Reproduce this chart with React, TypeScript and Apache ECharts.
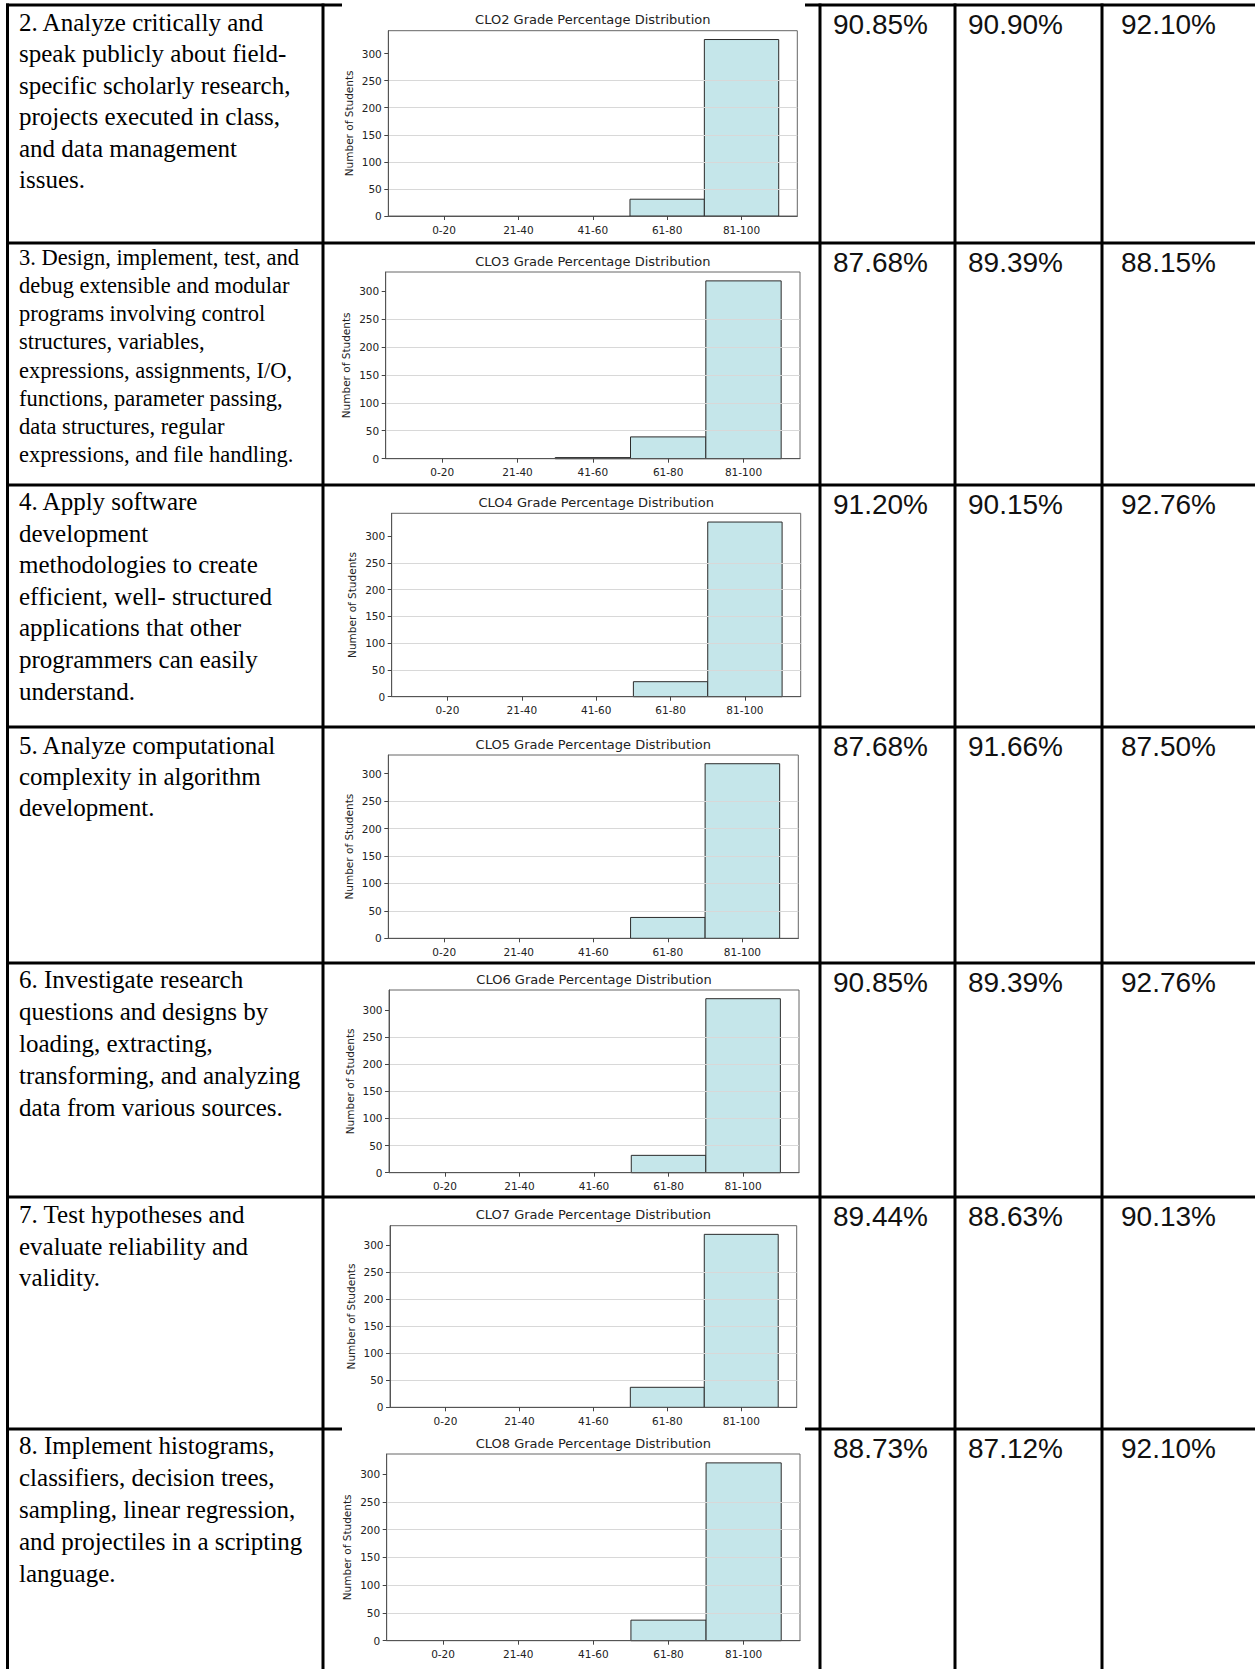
import React, { useEffect, useRef } from "react";
import * as echarts from "echarts";

// ---------- data ----------
const binLabels = ["0-20", "21-40", "41-60", "61-80", "81-100"];
const binPositions = [0, 1, 2, 3, 4];
const yTickValues = [0, 50, 100, 150, 200, 250, 300];
const cloNames = ["CLO2", "CLO3", "CLO4", "CLO5", "CLO6", "CLO7", "CLO8"];

const clo2Counts = [0, 0, 0, 31, 326];
const clo3Counts = [0, 0, 2, 39, 318];
const clo4Counts = [0, 0, 0, 28, 326];
const clo5Counts = [0, 0, 0, 38, 318];
const clo6Counts = [0, 0, 0, 32, 321];
const clo7Counts = [0, 0, 0, 37, 320];
const clo8Counts = [0, 0, 0, 37, 320];
const allCounts = [clo2Counts, clo3Counts, clo4Counts, clo5Counts, clo6Counts, clo7Counts, clo8Counts];

const outcomeTexts = [
  ["2. Analyze critically and", "speak publicly about field-", "specific scholarly research,", "projects executed in class,", "and data management", "issues."],
  ["3. Design, implement, test, and", "debug extensible and modular", "programs involving control", "structures, variables,", "expressions, assignments, I/O,", "functions, parameter passing,", "data structures, regular", "expressions, and file handling."],
  ["4. Apply software", "development", "methodologies to create", "efficient, well- structured", "applications that other", "programmers can easily", "understand."],
  ["5. Analyze computational", "complexity in algorithm", "development."],
  ["6. Investigate research", "questions and designs by", "loading, extracting,", "transforming, and analyzing", "data from various sources."],
  ["7. Test hypotheses and", "evaluate reliability and", "validity."],
  ["8. Implement histograms,", "classifiers, decision trees,", "sampling, linear regression,", "and projectiles in a scripting", "language."],
];

const percentCol1 = ["90.85%", "87.68%", "91.20%", "87.68%", "90.85%", "89.44%", "88.73%"];
const percentCol2 = ["90.90%", "89.39%", "90.15%", "91.66%", "89.39%", "88.63%", "87.12%"];
const percentCol3 = ["92.10%", "88.15%", "92.76%", "87.50%", "92.76%", "90.13%", "92.10%"];

// ---------- layout (pixels) ----------
const W = 1255;
const H = 1669;
const plotBoxes = [
  { L: 388.3, R: 797.3, T: 30.7, B: 216 },
  { L: 385.7, R: 800, T: 272, B: 458.7 },
  { L: 391.7, R: 800.7, T: 513.3, B: 696.7 },
  { L: 388.3, R: 798.3, T: 755, B: 938.3 },
  { L: 389, R: 799, T: 990, B: 1172.7 },
  { L: 390, R: 796.7, T: 1225.7, B: 1407.3 },
  { L: 386.7, R: 800, T: 1454, B: 1640.7 },
];
const rowLines = [5, 243, 485, 727, 963, 1197, 1429];
const rowLineGap = [true, false, false, false, false, false, true];
const colLines = [7.5, 323, 820, 955, 1102];
const textFirstY = [22.4, 257.6, 501.4, 745, 979, 1214.6, 1445.6];
const textStep = [31.5, 28.1, 31.6, 31.4, 32, 31.4, 32];
const textSize = [25, 22.5, 25, 25, 25, 25, 25];
const pctX = [833, 968, 1121];

const chartFont = "DejaVu Sans";
const LINE_W = 3;

function buildOption() {
  const grid: any[] = [];
  const xAxis: any[] = [];
  const yAxis: any[] = [];
  const series: any[] = [];
  const title: any[] = [];

  plotBoxes.forEach((b, i) => {
    const counts = allCounts[i];
    const ymax = Math.max(...counts) * 1.05;
    grid.push({
      left: b.L,
      top: b.T,
      width: b.R - b.L,
      height: b.B - b.T,
      show: true,
      borderColor: "#666",
      borderWidth: 1,
      backgroundColor: "#fff",
    });
    xAxis.push({
      gridIndex: i,
      type: "value",
      min: -0.75,
      max: 4.75,
      z: 4,
      axisLine: { show: true, onZero: false, lineStyle: { color: "#555", width: 1 } },
      axisTick: { show: true, customValues: binPositions, length: 4, lineStyle: { color: "#444" } },
      axisLabel: {
        customValues: binPositions,
        formatter: (v: number) => binLabels[Math.round(v)] ?? "",
        fontSize: 10.5,
        color: "#222",
        fontFamily: chartFont,
        margin: 8,
      },
      splitLine: { show: false },
    });
    yAxis.push({
      gridIndex: i,
      type: "value",
      min: 0,
      max: ymax,
      interval: 50,
      z: 3,
      axisLine: { show: true, onZero: false, lineStyle: { color: "#555", width: 1 } },
      axisTick: { show: true, customValues: yTickValues, length: 4, lineStyle: { color: "#444" } },
      axisLabel: {
        customValues: yTickValues,
        fontSize: 10.5,
        color: "#222",
        fontFamily: chartFont,
        margin: 6.5,
      },
      splitLine: {
        show: true,
        showMinLine: false,
        showMaxLine: false,
        lineStyle: { color: "#d8d8d8", width: 1 },
      },
      name: "Number of Students",
      nameLocation: "middle",
      nameRotate: 90,
      nameGap: 34,
      nameTextStyle: { fontSize: 10.5, color: "#222", fontFamily: chartFont },
    });
    series.push({
      type: "custom",
      xAxisIndex: i,
      yAxisIndex: i,
      z: 2,
      clip: false,
      encode: { x: 0, y: 1 },
      data: counts.map((v, k) => [binPositions[k], v]),
      renderItem: (params: any, api: any) => {
        const x = api.value(0);
        const v = api.value(1);
        if (!(v > 0)) return null;
        const p1 = api.coord([x - 0.5, v]);
        const p2 = api.coord([x + 0.5, 0]);
        return {
          type: "rect",
          shape: { x: p1[0], y: p1[1], width: p2[0] - p1[0], height: p2[1] - p1[1] },
          style: { fill: "#c5e6ea", stroke: "#2b2b2b", lineWidth: 1 },
        };
      },
    });
    title.push({
      text: `${cloNames[i]} Grade Percentage Distribution`,
      left: (b.L + b.R) / 2,
      top: b.T - 11 - 6.5,
      textAlign: "center",
      padding: 0,
      textStyle: {
        fontSize: 13,
        fontWeight: "normal",
        color: "#222",
        fontFamily: chartFont,
        lineHeight: 13,
      },
    });
  });

  const graphic: any[] = [];
  // table lines
  colLines.forEach((x) => {
    graphic.push({
      type: "rect",
      shape: { x: x - LINE_W / 2, y: rowLines[0] - LINE_W / 2, width: LINE_W, height: H },
      style: { fill: "#000" },
      z: 10,
    });
  });
  rowLines.forEach((y, r) => {
    const x0 = colLines[0] - LINE_W / 2;
    if (rowLineGap[r]) {
      graphic.push({
        type: "rect",
        shape: { x: x0, y: y - LINE_W / 2, width: 342 - x0, height: LINE_W },
        style: { fill: "#000" },
        z: 10,
      });
      graphic.push({
        type: "rect",
        shape: { x: 805, y: y - LINE_W / 2, width: W - 805, height: LINE_W },
        style: { fill: "#000" },
        z: 10,
      });
    } else {
      graphic.push({
        type: "rect",
        shape: { x: x0, y: y - LINE_W / 2, width: W - x0, height: LINE_W },
        style: { fill: "#000" },
        z: 10,
      });
    }
  });
  // outcome texts
  outcomeTexts.forEach((lines, r) => {
    lines.forEach((t, k) => {
      graphic.push({
        type: "text",
        x: 19,
        y: textFirstY[r] + k * textStep[r],
        z: 10,
        style: {
          text: t,
          font: `${textSize[r]}px "Liberation Serif"`,
          fill: "#000",
          textAlign: "left",
          textVerticalAlign: "middle",
          align: "left",
          verticalAlign: "middle",
        },
      });
    });
  });
  // percentages
  [percentCol1, percentCol2, percentCol3].forEach((col, c) => {
    col.forEach((t, r) => {
      graphic.push({
        type: "text",
        x: pctX[c],
        y: rowLines[r] + 19.5,
        z: 10,
        style: {
          text: t,
          font: `28px "Liberation Sans"`,
          fill: "#111",
          textAlign: "left",
          textVerticalAlign: "middle",
          align: "left",
          verticalAlign: "middle",
        },
      });
    });
  });

  return {
    animation: false,
    backgroundColor: "#fff",
    title,
    grid,
    xAxis,
    yAxis,
    series,
    graphic: { elements: graphic },
  };
}

export default function App() {
  const ref = useRef<HTMLDivElement>(null);
  useEffect(() => {
    document.body.style.margin = "0";
    document.body.style.overflow = "hidden";
    const chart = echarts.init(ref.current!, null, { renderer: "svg", width: W, height: H });
    chart.setOption(buildOption() as any);
    return () => chart.dispose();
  }, []);
  return (
    <div
      ref={ref}
      style={{ position: "absolute", left: 0, top: 0, width: W, height: H, background: "#fff" }}
    />
  );
}
